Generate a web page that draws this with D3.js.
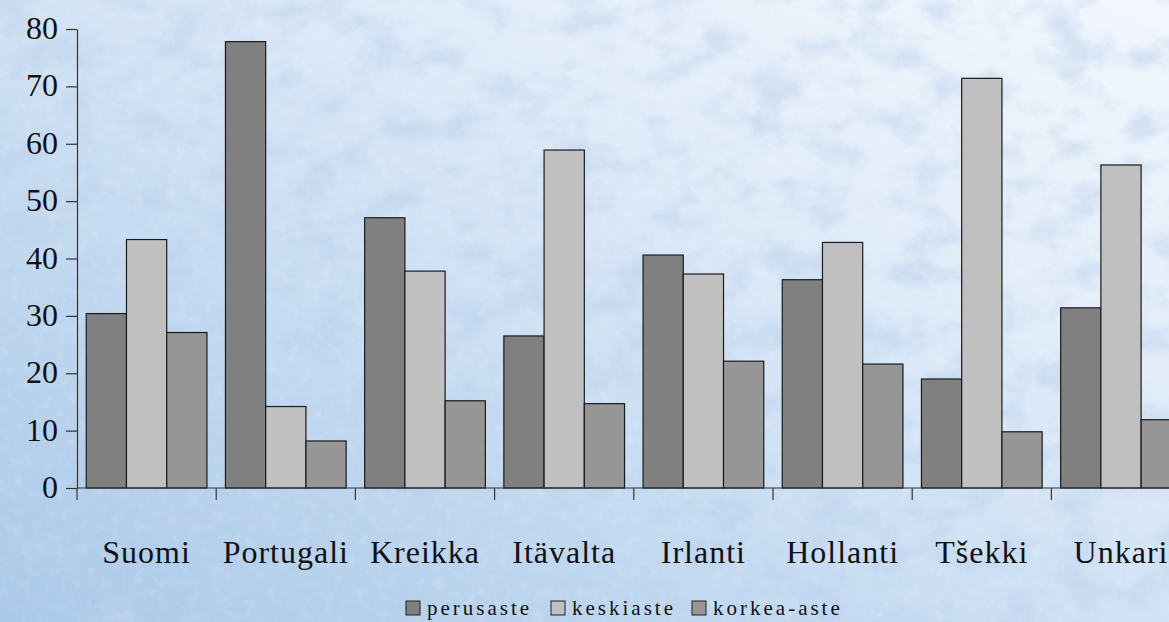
<!DOCTYPE html>
<head>
    <meta charset="utf-8">
    <style>
        body { margin: 0; }
        .bar { stroke: #1a1a1a; stroke-width: 1.2px; }
        .axis path, .axis line { stroke: #333; stroke-width: 1.2px; }
        .axis text { font-family: "Liberation Serif", "DejaVu Serif", serif; fill: #111; }
        .legend-text { font-family: "Liberation Serif", serif; font-size: 21px; letter-spacing: 3px; fill: #111; }
    </style>
</head>

<body>
    <script src="https://d3js.org/d3.v7.min.js"></script>

    <script>
        var width = 1169,
            height = 622;

        // data
        var categories = ["Suomi", "Portugali", "Kreikka", "Itävalta", "Irlanti", "Hollanti", "Tšekki", "Unkari"];
        var series = ["perusaste", "keskiaste", "korkea-aste"];
        var perusaste = [30.4, 77.8, 47.1, 26.5, 40.6, 36.3, 19.0, 31.4];
        var keskiaste = [43.3, 14.2, 37.8, 58.9, 37.3, 42.8, 71.4, 56.3];
        var korkeaAste = [27.1, 8.2, 15.2, 14.7, 22.1, 21.6, 9.8, 11.9];
        var colors = ["#808080", "#c0c0c0", "#969696"];
        var yTicks = [0, 10, 20, 30, 40, 50, 60, 70, 80];

        var values = [perusaste, keskiaste, korkeaAste];
        var data = categories.map(function(c, i) {
            return { cat: c, vals: series.map(function(s, j) { return { key: s, v: values[j][i] }; }) };
        });

        var svg = d3.select("body").append("svg")
            .attr("width", width)
            .attr("height", height);

        // background: icy blue gradient + noise texture
        var defs = svg.append("defs");
        var grad = defs.append("linearGradient")
            .attr("id", "bg")
            .attr("x1", "0").attr("y1", "1").attr("x2", "1").attr("y2", "0");
        grad.append("stop").attr("offset", "0").attr("stop-color", "#a9c8e8");
        grad.append("stop").attr("offset", "0.35").attr("stop-color", "#c4daf1");
        grad.append("stop").attr("offset", "0.7").attr("stop-color", "#e2edf9");
        grad.append("stop").attr("offset", "1").attr("stop-color", "#f3f7fd");

        // coarse blotches
        var filt = defs.append("filter").attr("id", "noise")
            .attr("x", 0).attr("y", 0).attr("width", "100%").attr("height", "100%");
        filt.append("feTurbulence")
            .attr("type", "fractalNoise")
            .attr("baseFrequency", "0.02 0.028")
            .attr("numOctaves", 5)
            .attr("seed", 11);
        filt.append("feColorMatrix")
            .attr("type", "matrix")
            .attr("values", "0 0 0 0 0.5  0 0 0 0 0.64  0 0 0 0 0.84  3.2 0 0 0 -1.45");

        // fine speckle
        var filt2 = defs.append("filter").attr("id", "speck")
            .attr("x", 0).attr("y", 0).attr("width", "100%").attr("height", "100%");
        filt2.append("feTurbulence")
            .attr("type", "fractalNoise")
            .attr("baseFrequency", "0.09")
            .attr("numOctaves", 3)
            .attr("seed", 3);
        filt2.append("feColorMatrix")
            .attr("type", "matrix")
            .attr("values", "0 0 0 0 1  0 0 0 0 1  0 0 0 0 1  3 0 0 0 -1.5");

        svg.append("rect").attr("width", width).attr("height", height).attr("fill", "url(#bg)");
        svg.append("rect").attr("width", width).attr("height", height)
            .attr("filter", "url(#noise)").attr("opacity", 0.5);
        svg.append("rect").attr("width", width).attr("height", height)
            .attr("filter", "url(#speck)").attr("opacity", 0.12);

        // scales
        var x0 = d3.scaleBand().domain(categories).range([77, 77 + 8 * 139.2]).padding(0);
        var x1 = d3.scaleBand().domain(series).range([0, x0.bandwidth()]).paddingInner(0).paddingOuter(0.23);
        var y = d3.scaleLinear().domain([0, 80]).range([488, 29]);
        var color = d3.scaleOrdinal().domain(series).range(colors);

        // bars
        var groups = svg.selectAll(".grp")
            .data(data)
            .enter().append("g")
            .attr("class", "grp")
            .attr("transform", function(d) { return "translate(" + x0(d.cat) + ",0)"; });

        groups.selectAll("rect")
            .data(function(d) { return d.vals; })
            .enter().append("rect")
            .attr("class", "bar")
            .attr("x", function(d) { return x1(d.key); })
            .attr("width", x1.bandwidth())
            .attr("y", function(d) { return y(d.v); })
            .attr("height", function(d) { return y(0) - y(d.v); })
            .attr("fill", function(d) { return color(d.key); });

        // y axis
        var yAxis = svg.append("g")
            .attr("class", "axis")
            .attr("transform", "translate(77,0)")
            .call(d3.axisLeft(y).tickValues(yTicks).tickSize(11).tickPadding(8).tickSizeOuter(0));
        yAxis.selectAll("text").style("font-size", "32px").attr("dy", "0.3em");

        // x axis: line + ticks at group boundaries
        var xAxis = svg.append("g").attr("class", "axis");
        xAxis.append("line")
            .attr("x1", 77).attr("x2", width)
            .attr("y1", y(0)).attr("y2", y(0));
        xAxis.selectAll(".xt")
            .data(categories)
            .enter().append("line")
            .attr("class", "xt")
            .attr("x1", function(d) { return x0(d); })
            .attr("x2", function(d) { return x0(d); })
            .attr("y1", y(0)).attr("y2", y(0) + 12);
        xAxis.selectAll(".xl")
            .data(categories)
            .enter().append("text")
            .attr("class", "xl")
            .attr("x", function(d) { return x0(d) + x0.bandwidth() / 2; })
            .attr("y", 563)
            .style("text-anchor", "middle")
            .style("font-size", "32px")
            .style("letter-spacing", "1px")
            .text(function(d) { return d; });

        // legend
        var legendX = [406, 551, 692];
        var legend = svg.selectAll(".leg")
            .data(series)
            .enter().append("g")
            .attr("class", "leg")
            .attr("transform", function(d, i) { return "translate(" + legendX[i] + ",601)"; });
        legend.append("rect")
            .attr("width", 14).attr("height", 14)
            .attr("fill", function(d) { return color(d); })
            .attr("stroke", "#222").attr("stroke-width", 1);
        legend.append("text")
            .attr("class", "legend-text")
            .attr("x", 21).attr("y", 14)
            .text(function(d) { return d; });
    </script>
</body>
